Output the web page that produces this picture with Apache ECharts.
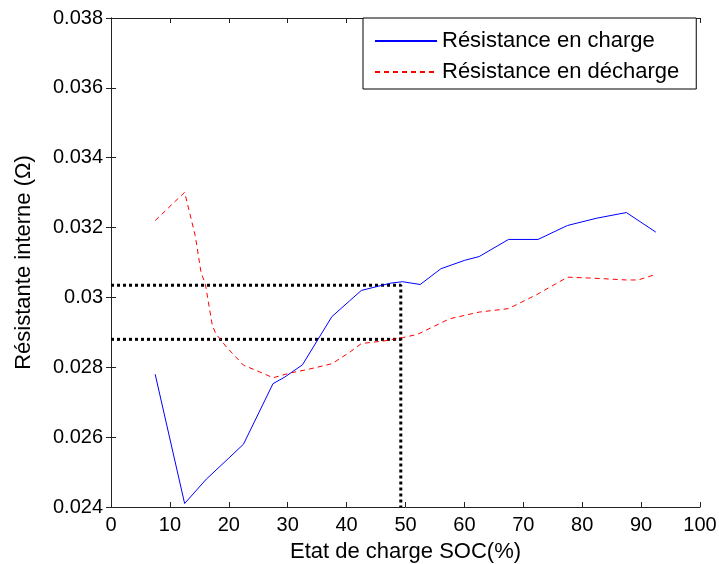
<!DOCTYPE html>
<html>
<head>
<meta charset="utf-8">
<script src="https://cdn.jsdelivr.net/npm/echarts@6/dist/echarts.min.js"></script>
<style>
  html, body { margin: 0; padding: 0; background: #fff; }
  #chart { width: 719px; height: 564px; }
</style>
</head>
<body>
<div id="chart"></div>
<script>
// SOC (%) and internal resistance (ohm)
var socCharge = [7.5, 12.5, 16.2, 20, 22.5, 27.5, 29.5, 32.5, 37.5, 40.5, 42.5, 47.5, 49.5, 52.5, 56, 60, 62.5, 67.5, 72.5, 77.5, 82.5, 87.5, 92.5];
var resCharge = [0.0278, 0.0241, 0.0248, 0.0254, 0.0258, 0.02753, 0.02772, 0.02807, 0.02945, 0.0299, 0.0302, 0.03041, 0.03045, 0.03037, 0.03082, 0.03106, 0.03117, 0.03166, 0.03166, 0.03206, 0.03227, 0.03243, 0.03187];

var socDecharge = [7.5, 12.5, 14.3, 15.3, 16, 17.2, 17.8, 19.6, 22.5, 25.9, 27.5, 30.5, 33.2, 37.5, 40.6, 42.5, 46.2, 49.5, 52, 57.5, 62.5, 67.5, 72.5, 77.5, 82, 87.5, 89.5, 92.5];
var resDecharge = [0.0322, 0.03301, 0.03177, 0.0307, 0.0304, 0.0292, 0.02896, 0.02858, 0.02806, 0.02782, 0.0277, 0.02784, 0.02793, 0.0281, 0.02844, 0.02868, 0.02875, 0.02885, 0.02894, 0.02939, 0.02958, 0.02968, 0.0301, 0.03058, 0.03055, 0.0305, 0.0305, 0.03066];

// reading guides at SOC = 50 %
var guideSoc = 49.2;
var guideCharge = 0.03035;
var guideDecharge = 0.0288;

var xTicks = [0, 100, 10];
var yTicks = [0.024, 0.038, 0.002];

function pairs(xs, ys) {
  var out = [];
  for (var i = 0; i < xs.length; i++) out.push([xs[i], ys[i]]);
  return out;
}

var font = 'Liberation Sans, Arial, sans-serif';
var axisColor = '#222';

var baseX = {
  type: 'value', min: xTicks[0], max: xTicks[1], interval: xTicks[2],
  axisLine: { show: true, lineStyle: { color: axisColor, width: 1 } },
  axisTick: { show: true, inside: true, length: 5, lineStyle: { color: axisColor } },
  splitLine: { show: false }
};
var baseY = {
  type: 'value', min: yTicks[0], max: yTicks[1], interval: yTicks[2],
  axisLine: { show: true, lineStyle: { color: axisColor, width: 1 } },
  axisTick: { show: true, inside: true, length: 5, lineStyle: { color: axisColor } },
  splitLine: { show: false }
};

var dotted = { color: '#000', width: 3, type: [3, 3], cap: 'butt' };

var option = {
  backgroundColor: '#fff',
  animation: false,
  grid: { left: 111, right: 19, top: 18, bottom: 57, outerBoundsMode: 'none' },
  legend: {
    data: ['Résistance en charge', 'Résistance en décharge'],
    orient: 'vertical',
    left: 363, top: 18,
    padding: [12, 17, 6, 11],
    itemWidth: 62, itemHeight: 14, itemGap: 9,
    itemStyle: { opacity: 0 },
    backgroundColor: '#fff',
    borderColor: '#000', borderWidth: 1, borderRadius: 0,
    textStyle: { fontFamily: font, fontSize: 22, color: '#000', lineHeight: 20 }
  },
  xAxis: [
    Object.assign({}, baseX, {
      position: 'bottom',
      name: 'Etat de charge SOC(%)', nameLocation: 'middle', nameGap: 34,
      nameTextStyle: { fontFamily: font, fontSize: 22, color: '#000' },
      axisLabel: { fontFamily: font, fontSize: 20, color: '#000', margin: 8 }
    }),
    Object.assign({}, baseX, { position: 'top', axisLabel: { show: false } })
  ],
  yAxis: [
    Object.assign({}, baseY, {
      position: 'left',
      name: 'Résistante interne (Ω)', nameLocation: 'middle', nameGap: 76,
      nameTextStyle: { fontFamily: font, fontSize: 22, color: '#000' },
      axisLabel: { fontFamily: font, fontSize: 20, color: '#000', margin: 8 }
    }),
    Object.assign({}, baseY, { position: 'right', axisLabel: { show: false } })
  ],
  series: [
    {
      type: 'line', silent: true, symbol: 'none',
      lineStyle: dotted,
      data: [[xTicks[0], guideCharge], [guideSoc, guideCharge], [guideSoc, yTicks[0]]]
    },
    {
      type: 'line', silent: true, symbol: 'none',
      lineStyle: dotted,
      data: [[xTicks[0], guideDecharge], [guideSoc, guideDecharge]]
    },
    {
      name: 'Résistance en charge',
      type: 'line', symbol: 'none',
      lineStyle: { color: '#0000ff', width: 1 },
      itemStyle: { color: '#0000ff' },
      data: pairs(socCharge, resCharge)
    },
    {
      name: 'Résistance en décharge',
      type: 'line', symbol: 'none',
      lineStyle: { color: '#ff0000', width: 1, type: [5, 4] },
      itemStyle: { color: '#ff0000' },
      data: pairs(socDecharge, resDecharge)
    }
  ]
};

var myChart = echarts.init(document.getElementById('chart'));
myChart.setOption(option);
</script>
</body>
</html>
